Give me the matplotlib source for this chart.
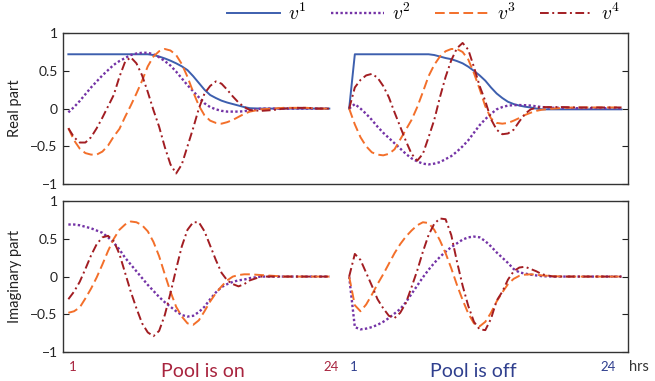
import matplotlib.pyplot as plt
import numpy as np

plt.rcParams['font.family'] = ['Lato', 'DejaVu Sans']
plt.rcParams['mathtext.fontset'] = 'cm'

# time axis: half-hour samples while things move, hourly afterwards
hours_on = [1, 1.5, 2, 2.5, 3, 3.5, 4, 4.5,
            5, 5.5, 6, 6.5, 7, 7.5, 8, 8.5,
            9, 9.5, 10, 10.5, 11, 11.5, 12, 12.5,
            13, 13.5, 14, 14.5, 15, 15.5, 16, 16.5,
            17, 18, 19, 20, 21, 22, 23, 24]
hours_off = [0, 0.5, 1, 1.5, 2, 2.5, 3, 3.5,
             4, 4.5, 5, 5.5, 6, 6.5, 7, 7.5,
             8, 8.5, 9, 9.5, 10, 10.5, 11, 11.5,
             12, 12.5, 13, 13.5, 14, 14.5, 15, 15.5,
             16, 16.5, 17, 18, 19, 20, 21, 22, 23, 24]

# real part, pool on
re_on_v1 = [.72, .72, .72, .72, .72, .72, .72, .72,
            .72, .72, .72, .72, .72, .72, .72, .71,
            .69, .665, .635, .60, .56, .51, .43, .34,
            .25, .18, .14, .105, .08, .06, .04, .02,
            .005, 0, 0, 0, 0, 0, 0, 0]
re_on_v2 = [-.05, .02, .10, .19, .28, .36, .44, .51,
            .58, .63, .67, .71, .73, .74, .74, .72,
            .68, .63, .57, .49, .40, .31, .23, .15,
            .07, .02, -.01, -.03, -.04, -.04, -.04, -.035,
            -.02, 0, 0, 0, 0, 0, 0, 0]
re_on_v3 = [-.26, -.42, -.53, -.59, -.61, -.61, -.57, -.49,
            -.37, -.27, -.11, .04, .20, .37, .56, .69,
            .76, .79, .77, .71, .59, .42, .22, .04,
            -.09, -.16, -.19, -.20, -.18, -.15, -.11, -.07,
            -.04, -.01, 0, .01, .01, .01, 0, 0]
re_on_v4 = [-.26, -.38, -.45, -.45, -.38, -.26, -.12, .03,
            .18, .42, .62, .68, .60, .44, .22, -.02,
            -.24, -.51, -.74, -.86, -.74, -.50, -.26, .00,
            .20, .30, .36, .33, .25, .16, .08, .02,
            -.02, -.03, -.02, 0, .01, .01, 0, 0]

# real part, pool off
re_off_v1 = [0, .72, .72, .72, .72, .72, .72, .72,
             .72, .72, .72, .72, .72, .72, .72, .71,
             .69, .67, .655, .63, .60, .555, .50, .44,
             .37, .28, .20, .14, .09, .06, .04, .025,
             .015, 0, -.01, -.01, -.01, -.01, -.01, -.01, -.01, -.01]
re_off_v2 = [0, .06, 0, -.07, -.15, -.24, -.32, -.39,
             -.46, -.53, -.60, -.66, -.70, -.73, -.74, -.73,
             -.71, -.67, -.63, -.57, -.50, -.42, -.32, -.22,
             -.14, -.07, -.01, .02, .04, .045, .047, .045,
             .04, .03, .02, .01, .01, .005, .005, .005, .005, .005]
re_off_v3 = [0, -.21, -.38, -.50, -.58, -.61, -.62, -.60,
             -.54, -.41, -.28, -.15, .02, .22, .43, .58,
             .69, .76, .79, .79, .75, .65, .47, .26,
             .03, -.13, -.19, -.20, -.19, -.16, -.125, -.085,
             -.055, -.03, -.015, 0, .01, .015, .015, .015, .015, .015]
re_off_v4 = [0, .28, .38, .44, .46, .41, .30, .15,
             -.05, -.24, -.43, -.60, -.69, -.60, -.38, -.15,
             .15, .42, .64, .80, .87, .78, .55, .30,
             .10, -.14, -.28, -.34, -.33, -.28, -.17, -.07,
             -.01, .01, .02, .02, .02, .015, .015, .015, .015, .015]

# imaginary part, pool on (v1 is purely real)
im_on_v2 = [.69, .69, .68, .66, .64, .61, .58, .52,
            .45, .36, .25, .16, .07, -.02, -.11, -.19,
            -.27, -.34, -.40, -.46, -.51, -.53, -.52, -.47,
            -.40, -.30, -.21, -.14, -.10, -.07, -.05, -.04,
            -.02, 0, 0, 0, 0, 0, 0, 0]
im_on_v3 = [-.48, -.46, -.41, -.29, -.16, -.01, .16, .34,
            .50, .62, .69, .73, .72, .68, .60, .46,
            .27, .03, -.20, -.40, -.53, -.62, -.64, -.58,
            -.46, -.33, -.22, -.13, -.05, .00, .02, .03,
            .03, .02, .01, 0, 0, 0, 0, 0]
im_on_v4 = [-.30, -.20, -.07, .10, .28, .43, .52, .54,
            .47, .30, .05, -.20, -.42, -.62, -.74, -.79,
            -.72, -.51, -.22, .10, .40, .62, .72, .72,
            .60, .41, .22, .05, -.05, -.10, -.13, -.10,
            -.05, 0, 0, 0, 0, 0, 0, 0]

# imaginary part, pool off
im_off_v2 = [0, -.67, -.70, -.69, -.67, -.64, -.60, -.55,
             -.49, -.43, -.34, -.23, -.12, -.01, .09, .18,
             .26, .33, .39, .44, .49, .52, .53, .52,
             .47, .40, .32, .25, .18, .10, .055, .04,
             .025, .015, .005, 0, 0, 0, 0, 0, 0, 0]
im_off_v3 = [0, -.38, -.46, -.37, -.24, -.10, .03, .17,
             .31, .43, .53, .61, .68, .72, .71, .62,
             .48, .31, .11, -.11, -.31, -.49, -.62, -.66,
             -.60, -.48, -.33, -.21, -.10, -.03, .01, .025,
             .03, .025, .015, .005, 0, 0, 0, 0, 0, 0]
im_off_v4 = [0, .30, .22, .05, -.12, -.30, -.42, -.52,
             -.55, -.48, -.35, -.14, .08, .33, .55, .70,
             .77, .76, .55, .20, -.12, -.39, -.60, -.70,
             -.71, -.56, -.32, -.20, -.04, .07, .12, .13,
             .10, .07, .03, 0, 0, 0, 0, 0, 0, 0]

labels = ['$v^1$', '$v^2$', '$v^3$', '$v^4$']
styles = [dict(color='#3d5fae', ls='-', lw=1.4),
          dict(color='#7433a6', ls=(0, (1, 1)), lw=1.7),
          dict(color='#f36f2a', ls=(0, (5, 2.3)), lw=1.4),
          dict(color='#a21d22', ls=(0, (4.5, 1.8, 1, 1.8)), lw=1.4)]
off_shift = 25.75

fig = plt.figure(figsize=(6.55, 3.81), dpi=100)
ax1 = fig.add_axes([0.0957, 0.517, 0.8626, 0.396])
ax2 = fig.add_axes([0.0957, 0.0761, 0.8626, 0.396])

top = [(re_on_v1, re_off_v1), (re_on_v2, re_off_v2),
       (re_on_v3, re_off_v3), (re_on_v4, re_off_v4)]
bottom = [None, (im_on_v2, im_off_v2),
          (im_on_v3, im_off_v3), (im_on_v4, im_off_v4)]

x_off = np.array(hours_off) + off_shift
handles = []
for i in range(4):
    h, = ax1.plot(hours_on, top[i][0], **styles[i])
    ax1.plot(x_off, top[i][1], **styles[i])
    handles.append(h)
    if bottom[i] is not None:
        ax2.plot(hours_on, bottom[i][0], **styles[i])
        ax2.plot(x_off, bottom[i][1], **styles[i])

for ax in (ax1, ax2):
    ax.set_xlim(0.5, 50.3)
    ax.set_ylim(-1, 1)
    ax.set_xticks([])
    ax.set_yticks([-1, -0.5, 0, 0.5, 1])
    ax.set_yticklabels(['\u22121', '\u22120.5', '0', '0.5', '1'])
    ax.tick_params(axis='y', direction='in', right=True, length=4,
                   width=0.8, labelsize=10, colors='#222222')
    for s in ax.spines.values():
        s.set_linewidth(1.0)
        s.set_color('#333333')

ax1.set_ylabel('Real part', fontsize=10.5, color='#222222')
ax2.set_ylabel('Imaginary part', fontsize=10.5, color='#222222')
ax1.yaxis.set_label_coords(-0.072, 0.5)
ax2.yaxis.set_label_coords(-0.072, 0.5)

fig.legend(handles, labels, loc='center right', bbox_to_anchor=(0.962, 0.968),
           ncol=4, frameon=False, fontsize=14, handlelength=2.7,
           handletextpad=0.45, columnspacing=1.25, borderpad=0)

# labels under the lower panel
red = '#a8243e'
blue = '#2f3f8e'
tr = ax2.get_xaxis_transform()
ax2.text(1.37, -0.1, '1', color=red, fontsize=9.5, ha='center', va='center', transform=tr)
ax2.text(24.2, -0.1, '24', color=red, fontsize=9.5, ha='center', va='center', transform=tr)
ax2.text(12.84, -0.13, 'Pool is on', color=red, fontsize=14, ha='center', va='center', transform=tr)
ax2.text(26.13, -0.1, '1', color=blue, fontsize=9.5, ha='center', va='center', transform=tr)
ax2.text(48.55, -0.1, '24', color=blue, fontsize=9.5, ha='center', va='center', transform=tr)
ax2.text(36.7, -0.13, 'Pool is off', color=blue, fontsize=14, ha='center', va='center', transform=tr)
ax2.text(51.3, -0.1, 'hrs', color='#333333', fontsize=10.5, ha='center', va='center',
         transform=tr, clip_on=False)

fig.savefig('out.png', dpi=100)
